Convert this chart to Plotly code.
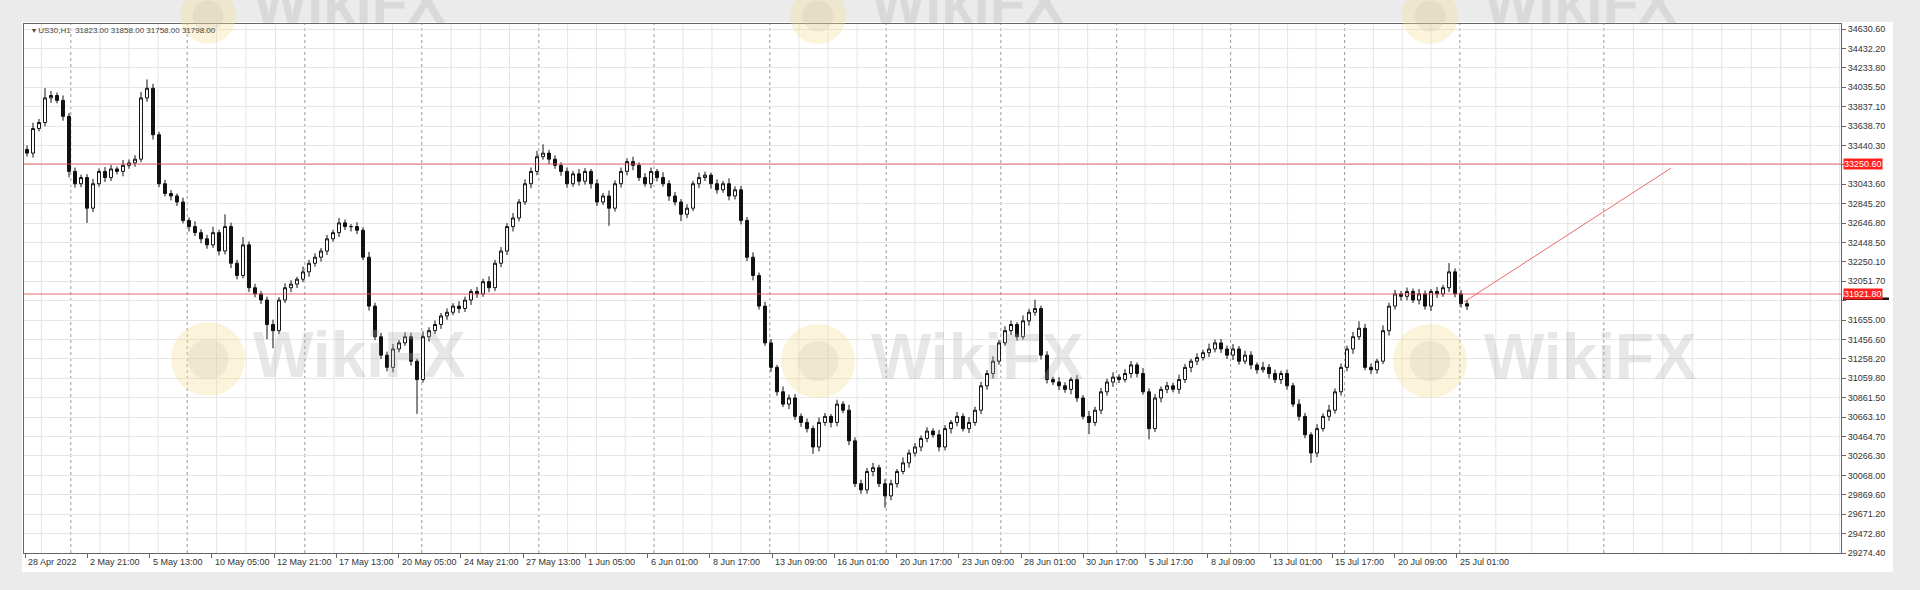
import plotly.graph_objects as go

# ---------------- data ----------------
symbol = "US30,H1"

price_ticks = [34630.60, 34432.20, 34233.80, 34035.50, 33837.10, 33638.70, 33440.30,
               33242.00, 33043.60, 32845.20, 32646.80, 32448.50, 32250.10, 32051.70,
               31853.30, 31655.00, 31456.60, 31258.20, 31059.80, 30861.50, 30663.10,
               30464.70, 30266.30, 30068.00, 29869.60, 29671.20, 29472.80, 29274.40]
# tick labels that sit under the price-level boxes and are not drawn
hidden_ticks = [33242.00, 31853.30]

time_labels = ["28 Apr 2022", "2 May 21:00", "5 May 13:00", "10 May 05:00", "12 May 21:00",
               "17 May 13:00", "20 May 05:00", "24 May 21:00", "27 May 13:00", "1 Jun 05:00",
               "6 Jun 01:00", "8 Jun 17:00", "13 Jun 09:00", "16 Jun 01:00", "20 Jun 17:00",
               "23 Jun 09:00", "28 Jun 01:00", "30 Jun 17:00", "5 Jul 17:00", "8 Jul 09:00",
               "13 Jul 01:00", "15 Jul 17:00", "20 Jul 09:00", "25 Jul 01:00"]

first_open = 33400

closes = [
    33362, 33613, 33675, 33926, 33951, 33901, 33738, 33175, 33049, 33112,
    32799, 33049, 33175, 33112, 33200, 33175, 33237, 33262, 33300, 33926,
    34025, 33550, 33049, 32949, 32924, 32862, 32674, 32611, 32549, 32486,
    32424, 32549, 32361, 32611, 32236, 32111, 32424, 31986, 31923, 31860,
    31610, 31547, 31860, 31986, 32023, 32073, 32148, 32236, 32298, 32361,
    32486, 32549, 32649, 32611, 32611, 32574, 32298, 31798, 31485, 31297,
    31172, 31360, 31422, 31485, 31235, 31047, 31485, 31547, 31610, 31698,
    31735, 31798, 31773, 31860, 31948, 31923, 32048, 31986, 32236, 32361,
    32611, 32699, 32862, 33049, 33175, 33325, 33362, 33300, 33237, 33175,
    33049, 33150, 33075, 33175, 33049, 32862, 32924, 32799, 33049, 33175,
    33275, 33237, 33112, 33049, 33175, 33112, 33049, 32924, 32862, 32737,
    32799, 33049, 33112, 33137, 33049, 32987, 33049, 32924, 32987, 32674,
    32298, 32111, 31798, 31422, 31172, 30922, 30796, 30859, 30671, 30609,
    30546, 30358, 30609, 30671, 30609, 30796, 30734, 30421, 29983, 29920,
    30108, 30146, 29983, 29858, 29983, 30108, 30196, 30296, 30358, 30446,
    30521, 30483, 30358, 30546, 30609, 30671, 30546, 30609, 30734, 30984,
    31109, 31235, 31422, 31547, 31610, 31485, 31648, 31735, 31773, 31297,
    31047, 31022, 30984, 30947, 31047, 30859, 30671, 30609, 30734, 30922,
    31022, 31072, 31047, 31109, 31197, 31109, 30922, 30546, 30859, 30947,
    30984, 30947, 31047, 31172, 31235, 31272, 31322, 31360, 31422, 31360,
    31297, 31360, 31235, 31297, 31197, 31147, 31172, 31109, 31047, 31109,
    30984, 30796, 30671, 30483, 30296, 30546, 30671, 30734, 30922, 31172,
    31360, 31485, 31572, 31172, 31147, 31235, 31547, 31798, 31923, 31898,
    31948, 31860, 31923, 31798, 31948, 31923, 31986, 32148, 31923, 31823,
    31798]

wick_up = [
    40, 60, 35, 100, 45, 30, 50, 35, 40, 30,
    35, 50, 30, 45, 40, 25, 55, 35, 40, 60,
    90, 45, 30, 40, 35, 25, 45, 30, 55, 35,
    40, 60, 30, 125, 40, 35, 80, 35, 40, 30,
    35, 50, 30, 45, 40, 25, 55, 35, 40, 30,
    40, 30, 50, 35, 25, 45, 30, 55, 35, 40,
    35, 50, 30, 45, 40, 25, 55, 35, 40, 30,
    40, 30, 50, 35, 25, 45, 30, 55, 35, 40,
    35, 50, 30, 45, 40, 60, 90, 35, 40, 30,
    40, 30, 50, 35, 25, 45, 30, 55, 35, 40,
    35, 50, 30, 45, 40, 25, 55, 35, 40, 30,
    40, 30, 50, 35, 25, 45, 30, 55, 35, 40,
    35, 50, 30, 45, 40, 25, 55, 35, 40, 30,
    40, 30, 50, 35, 25, 45, 30, 55, 35, 40,
    35, 50, 30, 45, 40, 25, 55, 35, 40, 30,
    40, 30, 50, 35, 25, 45, 30, 55, 35, 40,
    35, 50, 30, 45, 40, 25, 55, 35, 90, 30,
    40, 30, 50, 35, 25, 45, 30, 55, 35, 40,
    35, 50, 30, 45, 40, 25, 55, 35, 40, 30,
    40, 30, 50, 35, 25, 45, 30, 55, 35, 40,
    35, 50, 30, 45, 40, 25, 55, 35, 40, 30,
    40, 30, 50, 35, 25, 45, 30, 55, 35, 40,
    35, 50, 70, 45, 40, 25, 55, 35, 40, 30,
    40, 30, 50, 35, 25, 45, 30, 90, 35, 40,
    35]

wick_dn = [
    35, 45, 30, 40, 50, 30, 45, 60, 40, 35,
    150, 40, 30, 45, 35, 30, 50, 35, 40, 30,
    40, 50, 35, 30, 45, 40, 30, 50, 35, 45,
    40, 30, 45, 35, 50, 40, 30, 45, 35, 40,
    150, 180, 35, 30, 45, 40, 30, 50, 35, 45,
    40, 30, 45, 35, 50, 40, 30, 45, 35, 40,
    40, 50, 35, 30, 45, 350, 30, 50, 35, 45,
    40, 30, 45, 35, 50, 40, 30, 45, 35, 40,
    40, 50, 35, 30, 45, 40, 30, 50, 35, 45,
    40, 30, 45, 35, 50, 40, 30, 180, 35, 40,
    40, 50, 35, 30, 45, 40, 30, 50, 35, 70,
    40, 30, 45, 35, 50, 40, 30, 45, 35, 40,
    40, 50, 35, 30, 45, 40, 30, 50, 35, 45,
    40, 70, 45, 35, 50, 40, 30, 45, 35, 40,
    40, 50, 35, 120, 45, 40, 30, 50, 35, 45,
    40, 30, 45, 35, 50, 40, 30, 45, 35, 40,
    40, 50, 35, 30, 45, 40, 30, 50, 35, 45,
    40, 30, 45, 35, 50, 40, 30, 120, 35, 40,
    40, 50, 35, 30, 45, 40, 30, 110, 35, 45,
    40, 30, 45, 35, 50, 40, 30, 45, 35, 40,
    40, 50, 35, 30, 45, 40, 30, 50, 35, 45,
    40, 30, 45, 35, 100, 40, 30, 45, 35, 40,
    40, 50, 35, 30, 45, 40, 30, 50, 35, 45,
    40, 30, 45, 35, 50, 40, 30, 45, 35, 40,
    40]

resistance_level = 33250.6
support_level = 31921.8
trend_start = (239.5, 31840.0)   # (bar, price)
trend_end = (274.0, 33209.0)
week_starts = [7.3, 26.7, 46.3, 65.8, 85.3, 104.5, 123.8, 143.2, 162.3,
               181.6, 200.6, 219.6, 238.8, 262.8]

assert len(closes) == len(wick_up) == len(wick_dn)

# ---------------- derived ----------------
opens = [first_open] + closes[:-1]
highs = [max(o, c) + w for o, c, w in zip(opens, closes, wick_up)]
lows = [min(o, c) - w for o, c, w in zip(opens, closes, wick_dn)]
bars = list(range(len(closes)))

BARS_PER_LABEL = 10.375
label_pos = [k * BARS_PER_LABEL - 0.33 for k in range(len(time_labels))]

X_MIN, X_MAX = -0.5, 302.33
Y_MIN, Y_MAX = 29274.4, 34681.7

# pixel layout
W, H = 1920, 590
ML, MR, MT, MB = 24, 79, 24, 37
PW, PH = W - ML - MR, H - MT - MB


def pp(X, Y):
    return (X - ML) / PW, (H - MB - Y) / PH


fig = go.Figure()
fig.add_trace(go.Candlestick(
    x=bars, open=opens, high=highs, low=lows, close=closes,
    increasing=dict(line=dict(color="#111111", width=1), fillcolor="#ffffff"),
    decreasing=dict(line=dict(color="#111111", width=1), fillcolor="#111111"),
    whiskerwidth=0, showlegend=False, hoverinfo="skip",
))

shapes = []
# white panel
x0, y0 = pp(22, 22)
x1, y1 = pp(1893, 572)
shapes.append(dict(type="rect", xref="paper", yref="paper", x0=x0, y0=y1, x1=x1, y1=y0,
                   fillcolor="#ffffff", line=dict(width=0), layer="below"))

# light vertical grid
light = []
for a, b in zip(week_starts[:-1], week_starts[1:]):
    for k in range(1, 4):
        light.append(a + (b - a) * k / 4)
step = (week_starts[-1] - week_starts[0]) / (len(week_starts) - 1) / 4
v = week_starts[0] - step
while v > X_MIN:
    light.append(v)
    v -= step
v = week_starts[-1] + step
while v < X_MAX:
    light.append(v)
    v += step
for v in light:
    shapes.append(dict(type="line", xref="x", yref="paper", x0=v, x1=v, y0=0, y1=1,
                       line=dict(color="#e4e4e4", width=1), layer="below"))
for v in week_starts:
    shapes.append(dict(type="line", xref="x", yref="paper", x0=v, x1=v, y0=0, y1=1,
                       line=dict(color="#9a9a9a", width=1, dash="dot"), layer="below"))

# horizontal levels + trend line
for lvl in (resistance_level, support_level):
    shapes.append(dict(type="line", xref="paper", yref="y", x0=0, x1=1, y0=lvl, y1=lvl,
                       line=dict(color="rgba(232,80,80,0.85)", width=1)))
shapes.append(dict(type="line", xref="x", yref="y", x0=trend_start[0], y0=trend_start[1],
                   x1=trend_end[0], y1=trend_end[1],
                   line=dict(color="rgba(232,80,80,0.85)", width=1)))

# current-price marker on the axis (mostly hidden under the red level label)
cx0, _ = pp(1843, 0)
cx1, _ = pp(1889, 0)
shapes.append(dict(type="rect", xref="paper", yref="y", x0=cx0, x1=cx1,
                   y0=support_level - 62, y1=support_level - 35,
                   fillcolor="#111111", line=dict(width=0)))

# watermark logos
for (cx, cy, r) in [(208, 359, 37), (818, 361, 37), (1430, 361, 37),
                    (208, 16, 28), (818, 16, 28), (1430, 16, 28)]:
    ax0, ay0 = pp(cx - r, cy + r)
    ax1, ay1 = pp(cx + r, cy - r)
    shapes.append(dict(type="circle", xref="paper", yref="paper", x0=ax0, y0=ay0, x1=ax1, y1=ay1,
                       fillcolor="rgba(245,220,150,0.34)", line=dict(width=0)))
    r2 = r * 0.55
    bx0, by0 = pp(cx - r2, cy + r2)
    bx1, by1 = pp(cx + r2, cy - r2)
    shapes.append(dict(type="circle", xref="paper", yref="paper", x0=bx0, y0=by0, x1=bx1, y1=by1,
                       fillcolor="rgba(200,190,170,0.22)", line=dict(width=0)))

annotations = []
# x labels (left aligned at tick like MT4)
for pos, lab in zip(label_pos, time_labels):
    annotations.append(dict(x=pos, y=0, xref="x", yref="paper", text=lab, showarrow=False,
                            xanchor="left", yanchor="top", xshift=1, yshift=-2,
                            font=dict(family="Liberation Sans", size=9, color="#333333")))

# header
o, h, l, c = opens[-1], highs[-1], lows[-1], closes[-1]
hx, hy = pp(30, 30)
annotations.append(dict(x=hx, y=hy, xref="paper", yref="paper", showarrow=False,
                        xanchor="left", yanchor="middle",
                        text=f"▾ {symbol}  {o:.2f} {h:.2f} {l:.2f} {c:.2f}",
                        font=dict(family="Liberation Sans", size=8, color="#444444")))

# level labels (red)
for lvl in (resistance_level, support_level):
    annotations.append(dict(x=1, y=lvl, xref="paper", yref="y", showarrow=False, xanchor="left",
                            xshift=2, text=f"{lvl:.2f}", bgcolor="#ff1f1f", borderpad=0,
                            font=dict(family="Liberation Sans", size=9, color="#ffffff")))

# watermark texts (top row partly above the page edge, as in the source)
for (tx, ty, sz) in [(251, 355, 64), (869, 357, 64), (1482, 357, 64),
                     (251, 2, 58), (869, 2, 58), (1482, 2, 58)]:
    ax_, ay_ = pp(tx, ty)
    annotations.append(dict(x=ax_, y=ay_, xref="paper", yref="paper", showarrow=False,
                            xanchor="left", yanchor="middle", text="<b>WikiFX</b>",
                            font=dict(family="Liberation Sans", size=sz,
                                      color="rgba(175,175,175,0.30)")))

tick_text = ["" if t in hidden_ticks else f"{t:.2f}" for t in price_ticks]

fig.update_layout(
    width=W, height=H,
    margin=dict(l=ML, r=MR, t=MT, b=MB),
    paper_bgcolor="#ebebeb", plot_bgcolor="#ffffff",
    shapes=shapes, annotations=annotations,
    showlegend=False,
    xaxis=dict(range=[X_MIN, X_MAX], rangeslider=dict(visible=False), showgrid=False,
               zeroline=False, showline=True, mirror=True, linecolor="#666666", linewidth=1,
               tickmode="array", tickvals=label_pos, ticktext=[""] * len(label_pos),
               ticks="outside", ticklen=4, tickcolor="#666666", fixedrange=True),
    yaxis=dict(range=[Y_MIN, Y_MAX], side="right", showgrid=True, gridcolor="#e6e6e6",
               zeroline=False, showline=True, mirror=True, linecolor="#666666", linewidth=1,
               tickmode="array", tickvals=price_ticks, ticktext=tick_text,
               ticks="outside", ticklen=4, tickcolor="#666666",
               tickfont=dict(family="Liberation Sans", size=9, color="#333333"),
               fixedrange=True),
    font=dict(family="Liberation Sans"),
)

fig.write_html("out.html", config={"displayModeBar": False},
               post_script="document.body.style.margin='0';document.body.style.overflow='hidden';")
